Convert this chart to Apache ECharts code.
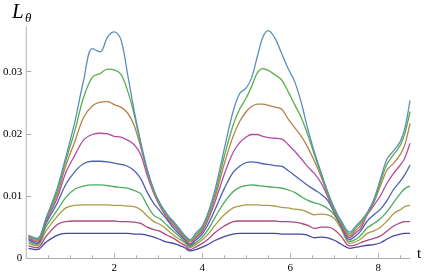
<!DOCTYPE html>
<html><head><meta charset="utf-8">
<script src="https://cdn.jsdelivr.net/npm/echarts@6/dist/echarts.min.js"></script>
<style>html,body{margin:0;padding:0;background:#fff}#c{width:425px;height:275px}</style>
</head><body><div id="c"></div>
<script>
const T = [0.05,0.25,0.45,0.7,0.9,1.1,1.3,1.5,1.68,1.85,2.0,2.15,2.3,2.45,2.6,2.75,2.9,3.05,3.2,3.35,3.5,3.6,3.72,3.85,4.0,4.15,4.3,4.5,4.7,4.85,5.0,5.12,5.25,5.38,5.5,5.65,5.8,5.95,6.1,6.25,6.4,6.55,6.7,6.85,7.0,7.15,7.35,7.5,7.6,7.75,7.9,8.05,8.2,8.35,8.5,8.6,8.72];

const L1 = [.0016,.0014,.0026,.0037,.0040,.0040,.0040,.0040,.0040,.0040,.0040,.0040,.0040,.0039,.0039,.0037,.0034,.0030,.0026,.0024,.0020,.0017,.0012,.0014,.0018,.0023,.0029,.0035,.0039,.0040,.0040,.0040,.0040,.0040,.0040,.0040,.0039,.0039,.0039,.0039,.0037,.0033,.0034,.0033,.0029,.0023,.0016,.0018,.0019,.0021,.0022,.0025,.0031,.0036,.0039,.0040,.0040];
const L2 = [.0020,.0017,.0035,.0054,.0059,.0060,.0060,.0060,.0060,.0060,.0060,.0059,.0059,.0058,.0056,.0050,.0046,.0043,.0037,.0032,.0025,.0021,.0014,.0018,.0024,.0032,.0042,.0052,.0059,.0060,.0060,.0060,.0060,.0060,.0060,.0060,.0059,.0059,.0058,.0056,.0053,.0048,.0050,.0050,.0046,.0036,.0020,.0022,.0025,.0029,.0032,.0036,.0044,.0052,.0057,.0059,.0059];
const L3 = [.0024,.0020,.0044,.0067,.0081,.0085,.0086,.0086,.0086,.0086,.0085,.0085,.0084,.0083,.0078,.0068,.0059,.0054,.0046,.0037,.0030,.0025,.0017,.0022,.0030,.0040,.0054,.0070,.0081,.0084,.0086,.0086,.0086,.0085,.0085,.0084,.0082,.0081,.0079,.0078,.0074,.0070,.0071,.0070,.0064,.0048,.0024,.0027,.0031,.0040,.0044,.0050,.0060,.0072,.0078,.0083,.0085];
const L4 = [.0027,.0022,.0051,.0077,.0098,.0111,.0116,.0118,.0118,.0117,.0115,.0114,.0113,.0109,.0104,.0085,.0069,.0063,.0053,.0043,.0034,.0027,.0019,.0025,.0034,.0048,.0067,.0090,.0107,.0114,.0117,.0118,.0117,.0116,.0115,.0114,.0113,.0110,.0106,.0099,.0093,.0089,.0086,.0080,.0070,.0052,.0027,.0031,.0037,.0049,.0056,.0064,.0075,.0090,.0104,.0112,.0116];
const L5 = [.0030,.0024,.0056,.0088,.0119,.0139,.0152,.0156,.0156,.0155,.0153,.0151,.0148,.0141,.0128,.0106,.0088,.0075,.0062,.0048,.0037,.0030,.0021,.0029,.0039,.0057,.0080,.0112,.0138,.0148,.0154,.0155,.0154,.0152,.0151,.0149,.0148,.0141,.0133,.0125,.0117,.0110,.0103,.0093,.0073,.0052,.0030,.0037,.0044,.0060,.0070,.0079,.0093,.0111,.0124,.0134,.0150];
const L6 = [.0032,.0026,.0059,.0096,.0138,.0165,.0190,.0199,.0201,.0200,.0196,.0195,.0190,.0183,.0167,.0133,.0104,.0082,.0065,.0052,.0040,.0032,.0023,.0032,.0043,.0065,.0093,.0135,.0170,.0186,.0195,.0199,.0199,.0196,.0194,.0193,.0192,.0183,.0172,.0160,.0147,.0136,.0121,.0099,.0075,.0054,.0033,.0042,.0048,.0070,.0085,.0101,.0121,.0137,.0150,.0161,.0185];
const L7 = [.0034,.0028,.0061,.0102,.0149,.0187,.0226,.0245,.0251,.0252,.0247,.0243,.0234,.0214,.0179,.0139,.0106,.0083,.0067,.0055,.0042,.0034,.0026,.0034,.0046,.0069,.0100,.0152,.0196,.0220,.0236,.0244,.0248,.0248,.0246,.0243,.0240,.0224,.0210,.0196,.0178,.0156,.0131,.0102,.0076,.0056,.0036,.0046,.0053,.0071,.0090,.0117,.0142,.0153,.0167,.0182,.0217];
const L8 = [.0036,.0030,.0063,.0107,.0157,.0204,.0258,.0291,.0297,.0304,.0303,.0296,.0270,.0232,.0184,.0141,.0108,.0085,.0069,.0057,.0044,.0036,.0028,.0037,.0049,.0073,.0106,.0164,.0214,.0240,.0258,.0276,.0298,.0305,.0302,.0295,.0287,.0268,.0247,.0226,.0198,.0166,.0135,.0104,.0078,.0058,.0039,.0050,.0057,.0072,.0092,.0123,.0152,.0167,.0182,.0200,.0236];
const L9 = [.0037,.0032,.0065,.0112,.0163,.0218,.0285,.0337,.0332,.0356,.0364,.0352,.0297,.0238,.0187,.0143,.0110,.0087,.0071,.0059,.0046,.0037,.0030,.0040,.0052,.0077,.0113,.0176,.0236,.0265,.0274,.0290,.0324,.0356,.0366,.0354,.0330,.0305,.0284,.0250,.0207,.0170,.0138,.0107,.0081,.0061,.0042,.0053,.0060,.0074,.0095,.0128,.0160,.0173,.0188,.0208,.0254];

const curves = [L1,L2,L3,L4,L5,L6,L7,L8,L9];
const colors = ['#4746a6','#b0497e','#ab9b45','#4aab5e','#4a62b0','#b44aa8','#b4804c','#5bad4a','#5b8fb9'];
const xMajor = [2,4,6,8];
const xMinor = [0.5,1,1.5,2.5,3,3.5,4.5,5,5.5,6.5,7,7.5,8.5];
const yTicks = [0,0.01,0.02,0.03];

const chart = echarts.init(document.getElementById('c'), null, {renderer:'canvas'});
const axisCol = '#b0b0b0';
const font = "'Liberation Serif', 'DejaVu Serif', serif";
chart.setOption({
  animation:false,
  grid:{left:24.6, right:15, top:26.9, bottom:16.7},
  xAxis:[{
    type:'value', min:0, max:8.72, position:'bottom',
    axisLine:{lineStyle:{color:axisCol,width:1}},
    axisTick:{show:true, inside:true, length:5, customValues:xMajor, lineStyle:{color:axisCol}},
    axisLabel:{customValues:xMajor, color:'#000', fontFamily:font, fontSize:11, margin:4},
    splitLine:{show:false}
  },{
    type:'value', min:0, max:8.72, position:'bottom', offset:0,
    axisLine:{show:false},
    axisTick:{show:true, inside:true, length:3, customValues:xMinor, lineStyle:{color:axisCol}},
    axisLabel:{show:false},
    splitLine:{show:false}
  }],
  yAxis:{
    type:'value', min:0, max:0.0372,
    axisLine:{show:true, lineStyle:{color:axisCol,width:1}},
    axisTick:{show:true, inside:true, length:5, customValues:yTicks, lineStyle:{color:axisCol}},
    axisLabel:{customValues:yTicks, color:'#000', fontFamily:font, fontSize:11, margin:4,
      formatter:v=> v===0 ? '0' : v.toFixed(2)},
    splitLine:{show:false}
  },
  graphic:[
    {type:'text', left:12, top:2, style:{text:'L', font:"italic 21px 'Liberation Serif', serif", fill:'#000'}},
    {type:'text', left:25, top:12, style:{text:'θ', font:"italic 13px 'Liberation Serif', serif", fill:'#000'}},
    {type:'text', left:417, top:247, style:{text:'t', font:"15px 'Liberation Serif', serif", fill:'#000'}}
  ],
  series: curves.map((arr,i)=>({
    type:'line', xAxisIndex:0, showSymbol:false, smooth:0.35,
    lineStyle:{width:1.3, color:colors[i]}, itemStyle:{color:colors[i]},
    data: T.map((t,j)=>[t, arr[j]]), z: 2+i
  }))
});
</script></body></html>
